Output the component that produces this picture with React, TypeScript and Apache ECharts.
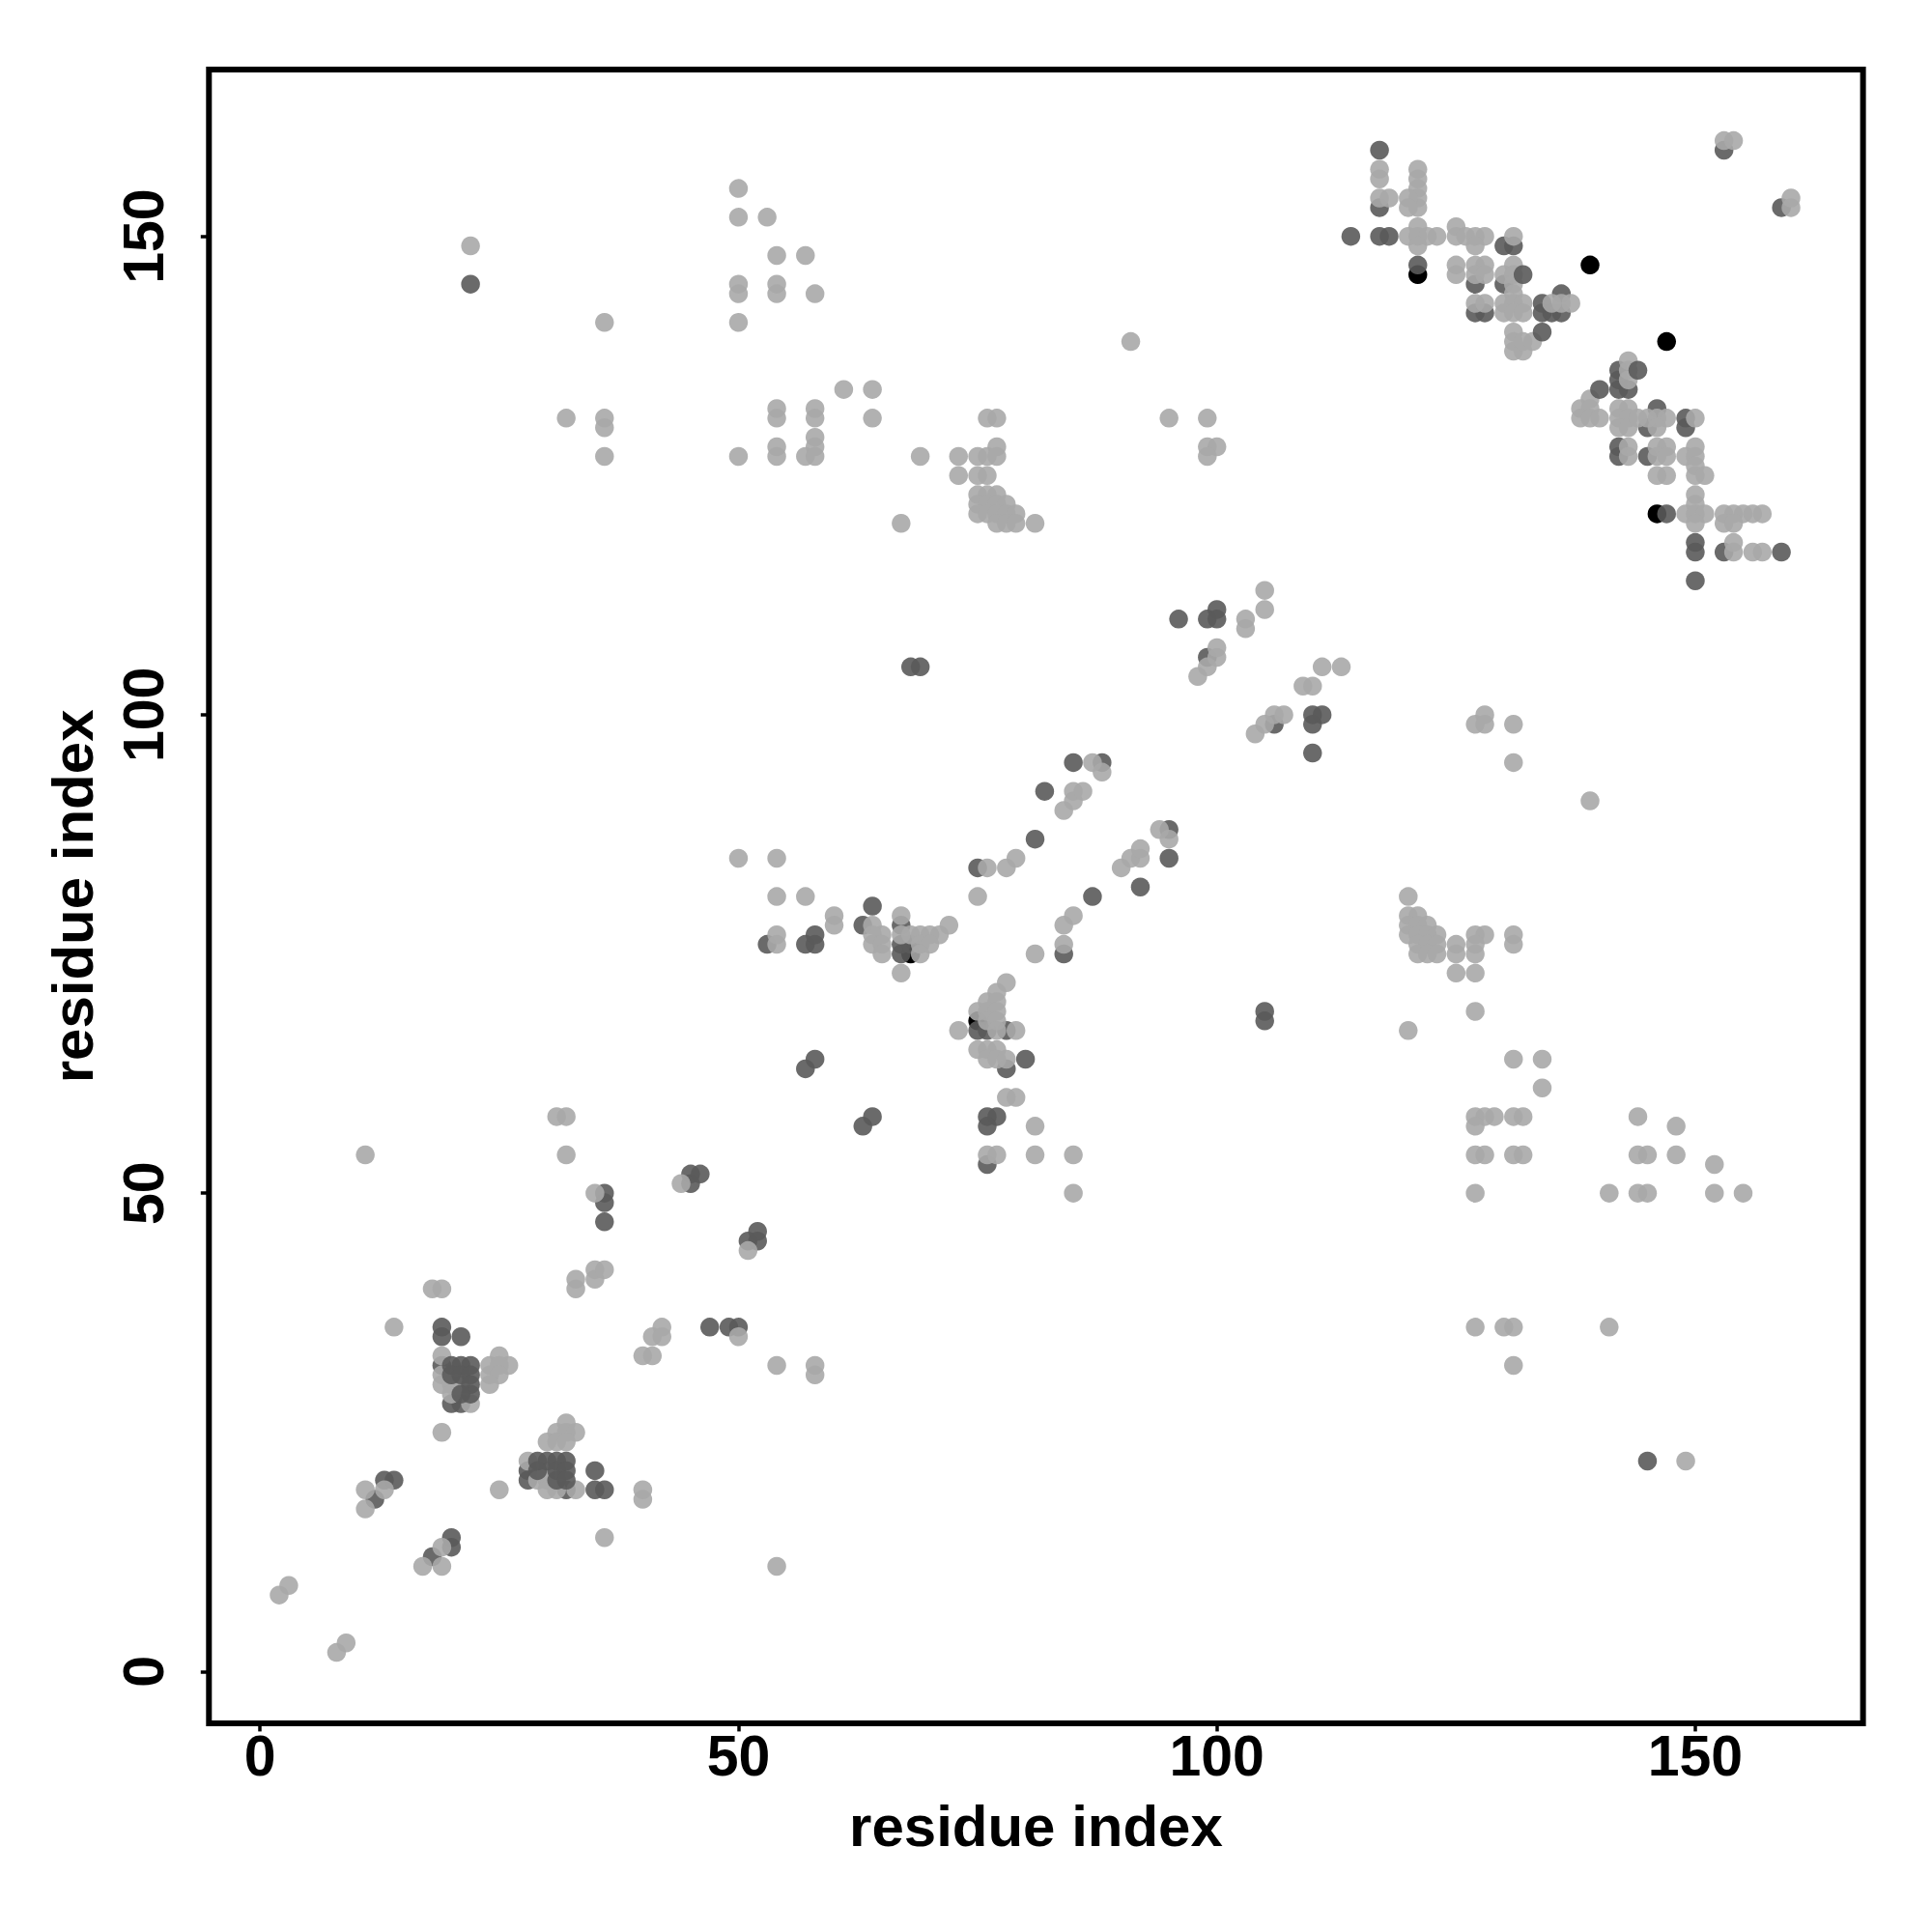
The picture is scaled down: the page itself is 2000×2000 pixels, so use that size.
import React, { useEffect, useRef } from "react";
import * as echarts from "echarts";

const axisTitle = "residue index";
const tickValues = [0, 50, 100, 150];

const blackPoints = [
  [139, 147], [147, 139], [121, 146], [146, 121], [68, 75], [75, 68],
];

const darkPoints = [
  [18, 12], [20, 13], [20, 14], [12, 18], [13, 20], [14, 20],
  [19, 36], [19, 35], [21, 35], [19, 32], [20, 28], [21, 28],
  [28, 21], [28, 20], [32, 19], [35, 21], [35, 19], [36, 19],
  [36, 50], [36, 49], [36, 47], [47, 36], [49, 36], [50, 36],
  [51, 45], [52, 45], [52, 46], [45, 51], [45, 52], [46, 52],
  [63, 57], [64, 58], [57, 63], [58, 64],
  [75, 67], [76, 67], [78, 67], [80, 64], [78, 63], [76, 58], [77, 58], [76, 57], [76, 53],
  [64, 80], [63, 78], [67, 78], [67, 76], [67, 75], [68, 76], [84, 75], [87, 81],
  [75, 84], [53, 76], [57, 76], [58, 76], [58, 77], [81, 87], [82, 92], [85, 95], [88, 95],
  [92, 82], [95, 85], [95, 88],
  [96, 110], [99, 110], [100, 111], [100, 110], [99, 106], [106, 99], [110, 99], [110, 100], [111, 100], [110, 96],
  [68, 105], [69, 105], [105, 69], [105, 68], [145, 22], [22, 145],
  [117, 159], [117, 153], [114, 150], [117, 150], [118, 150], [121, 147],
  [130, 149], [131, 149], [127, 145], [130, 145], [127, 142], [128, 142],
  [134, 143], [134, 142], [135, 142], [136, 142], [136, 144],
  [142, 136], [142, 135], [142, 134], [143, 134], [146, 132], [145, 130],
  [149, 131], [149, 130], [142, 128], [142, 127], [145, 127], [147, 121],
  [150, 118], [150, 117], [153, 117], [159, 117], [150, 114], [153, 159], [159, 153],
];

const lightPoints = [
  [2, 8], [3, 9], [8, 2], [9, 3], [17, 11], [19, 11], [19, 13], [11, 17], [11, 19], [13, 19],
  [14, 36], [18, 40], [19, 40], [19, 33], [19, 31], [19, 30], [20, 30], [20, 29], [21, 30], [22, 28],
  [25, 33], [26, 32], [24, 32], [25, 32], [24, 31], [25, 31], [24, 30], [19, 25],
  [32, 26], [31, 25], [32, 25], [33, 25], [30, 24], [31, 24], [32, 24], [28, 22],
  [29, 20], [30, 21], [30, 20], [30, 19], [31, 19], [33, 19], [25, 19], [40, 19], [40, 18], [36, 14],
  [33, 40], [33, 41], [35, 41], [35, 42], [36, 42], [42, 36], [41, 35], [42, 35], [40, 33], [41, 33],
  [50, 35], [54, 32], [58, 32], [58, 31], [54, 11], [51, 44], [44, 51], [35, 50],
  [11, 54], [32, 54], [31, 58], [32, 58],
  [78, 72], [77, 71], [76, 70], [77, 70], [75, 69], [76, 69], [77, 69], [76, 68], [77, 68], [77, 67], [79, 67], [73, 67],
  [75, 65], [76, 65], [77, 65], [76, 64], [77, 64], [78, 64], [78, 60], [79, 60],
  [81, 57], [76, 54], [77, 54], [81, 54], [85, 54], [85, 50],
  [64, 78], [65, 77], [64, 77], [64, 76], [65, 76], [65, 75], [60, 79], [60, 78],
  [67, 79], [67, 77], [72, 78], [71, 77], [70, 77], [69, 77], [68, 77], [69, 76], [70, 76], [69, 75], [67, 73],
  [81, 75], [84, 76], [84, 78], [85, 79], [75, 81], [76, 84], [78, 84], [79, 85], [90, 84],
  [54, 76], [54, 77], [54, 81], [57, 81], [54, 85], [50, 85],
  [84, 90], [85, 91], [85, 92], [86, 92], [87, 95], [88, 94],
  [91, 85], [92, 85], [92, 86], [95, 87], [94, 88],
  [103, 110], [103, 109], [105, 111], [105, 113], [98, 104], [99, 105], [100, 106], [100, 107],
  [111, 105], [113, 105], [109, 103], [110, 103], [104, 98], [105, 99], [106, 100], [107, 100],
  [127, 99], [128, 100], [128, 99], [131, 99], [131, 95], [139, 91],
  [120, 81], [120, 79], [121, 79], [120, 78], [121, 78], [122, 78], [120, 77], [121, 77], [122, 77], [123, 77],
  [121, 76], [122, 76], [123, 76], [121, 75], [122, 75], [123, 75],
  [125, 76], [125, 75], [125, 73], [127, 77], [128, 77], [127, 76], [127, 75], [127, 73], [131, 77], [131, 76], [127, 69],
  [120, 67], [131, 64], [134, 64], [134, 61],
  [127, 58], [128, 58], [129, 58], [131, 58], [132, 58], [127, 57], [127, 54], [128, 54], [131, 54], [132, 54], [127, 50],
  [141, 50], [144, 50], [145, 50], [144, 58], [144, 54], [145, 54], [148, 57], [148, 54], [152, 53], [152, 50], [155, 50],
  [127, 36], [130, 36], [131, 36], [131, 32], [141, 36], [149, 22],
  [22, 149], [36, 141], [32, 131], [36, 131], [36, 130], [36, 127],
  [50, 155], [50, 152], [53, 152], [50, 145], [50, 144], [50, 141], [54, 148], [54, 145], [54, 144], [57, 148], [58, 144],
  [61, 134], [64, 134], [64, 131], [54, 132], [54, 131], [58, 132], [58, 131], [54, 128], [54, 127], [50, 127], [57, 127],
  [58, 129], [58, 128], [58, 127], [69, 127], [67, 120],
  [76, 131], [77, 131], [77, 128], [73, 127], [75, 127], [76, 127], [77, 127], [73, 125], [75, 125], [76, 125],
  [75, 123], [76, 123], [77, 123], [75, 122], [76, 122], [77, 122], [78, 122],
  [75, 121], [76, 121], [77, 121], [78, 121], [79, 121], [77, 120], [78, 120], [79, 120], [81, 120],
  [99, 131], [95, 131], [100, 128], [99, 128], [99, 127], [91, 139],
  [117, 157], [117, 156], [117, 154], [118, 154],
  [121, 157], [121, 156], [121, 155], [121, 154], [121, 153], [120, 154], [120, 153],
  [121, 151], [120, 150], [121, 150], [122, 150], [123, 150], [121, 149],
  [125, 151], [125, 150], [126, 150], [127, 150], [128, 150], [127, 149], [131, 150],
  [125, 147], [125, 146], [127, 147], [128, 147], [127, 146], [128, 146],
  [130, 146], [131, 147], [131, 146], [131, 145], [131, 144],
  [127, 143], [128, 143], [130, 143], [131, 143], [132, 143], [130, 142], [131, 142], [132, 142],
  [135, 143], [136, 143], [137, 143],
  [131, 140], [131, 139], [131, 138], [132, 138], [132, 139], [133, 139],
  [143, 137], [143, 136], [143, 135], [139, 133], [138, 132], [139, 132], [138, 131], [139, 131], [140, 131],
  [142, 132], [143, 132], [142, 131], [143, 131], [142, 130], [143, 130], [144, 131], [145, 131],
  [146, 131], [147, 131], [146, 130], [150, 131],
  [143, 128], [143, 127], [146, 128], [147, 128], [146, 127], [147, 127],
  [150, 128], [149, 127], [150, 127], [150, 126], [150, 125], [151, 125], [146, 125], [147, 125],
  [150, 123], [150, 122], [149, 121], [150, 121], [151, 121], [150, 120],
  [153, 121], [154, 121], [155, 121], [156, 121], [157, 121], [153, 120], [154, 120],
  [154, 118], [154, 117], [156, 117], [157, 117],
  [153, 160], [154, 160], [160, 153], [160, 154],
];

const darkTopPoints = [
  [20, 32], [21, 32], [22, 32], [20, 31], [21, 31], [22, 31], [22, 30], [22, 29], [21, 29],
  [29, 22], [30, 22], [31, 22], [32, 22], [29, 21], [31, 21], [32, 21], [31, 20], [32, 20],
  [144, 136], [132, 146], [140, 134], [134, 140],
];

const markerSize = 19.5;

const makeSeries = (data: number[][], color: string, opacity: number) => ({
  type: "scatter",
  data,
  symbol: "circle",
  symbolSize: markerSize,
  itemStyle: { color, opacity },
  silent: true,
});

const font = '"Liberation Sans", Arial, sans-serif';

const makeAxis = (min: number, max: number, isY: boolean) => ({
  type: "value",
  min,
  max,
  name: axisTitle,
  nameLocation: "middle",
  nameGap: isY ? 111 : 77,
  nameMoveOverlap: false,
  nameTextStyle: { fontFamily: font, fontWeight: "bold", fontSize: 60, color: "#000" },
  splitLine: { show: false },
  axisLine: { show: false, onZero: false },
  axisTick: {
    show: true,
    length: 8.5,
    lineStyle: { color: "#000", width: 3.5 },
    customValues: tickValues,
  },
  axisLabel: {
    show: true,
    margin: isY ? 38 : 5,
    rotate: isY ? 90 : 0,
    fontFamily: font,
    fontWeight: "bold",
    fontSize: 59,
    color: "#000",
    customValues: tickValues,
  },
});

export default function App() {
  const ref = useRef<HTMLDivElement>(null);
  useEffect(() => {
    const chart = echarts.init(ref.current!, null, { renderer: "svg" });
    chart.setOption({
      animation: false,
      backgroundColor: "#fff",
      grid: {
        show: true,
        left: 216.3,
        top: 71.9,
        width: 1712.3,
        height: 1712,
        borderColor: "#000",
        borderWidth: 6,
        backgroundColor: "#fff",
      },
      xAxis: makeAxis(-5.34, 167.53, false),
      yAxis: makeAxis(-5.4, 167.44, true),
      series: [
        makeSeries(blackPoints, "#000", 1),
        makeSeries(darkPoints, "#5a5a5a", 0.9),
        makeSeries(lightPoints, "#a8a8a8", 0.9),
        makeSeries(darkTopPoints, "#5a5a5a", 0.9),
      ],
    });
    return () => chart.dispose();
  }, []);
  return (
    <div
      ref={ref}
      style={{ position: "absolute", left: 0, top: 0, width: 2000, height: 2000 }}
    />
  );
}
